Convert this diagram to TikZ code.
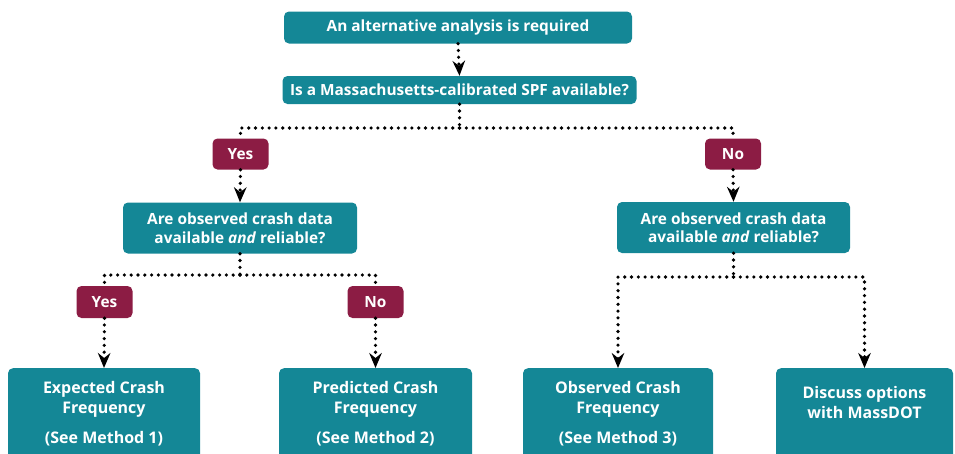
\documentclass[tikz,border=0pt]{standalone}
\usepackage{fontspec}
\setmainfont{Open Sans}
\usetikzlibrary{arrows.meta,calc}
\definecolor{tealbox}{RGB}{20,135,150}
\definecolor{answer}{RGB}{140,28,68}
\tikzset{
  x=1pt, y=-1pt,
  qbox/.style={rectangle, rounded corners=5pt, fill=tealbox, text=white,
    font=\fontsize{15.4}{18.5}\selectfont\bfseries, align=center, inner sep=0pt},
  ansbox/.style={rectangle, rounded corners=5pt, fill=answer, text=white,
    font=\fontsize{15.4}{18}\selectfont\bfseries, minimum width=56pt, minimum height=31pt, inner sep=0pt},
  boxtext/.style={text=white, font=\fontsize{16}{20.5}\selectfont\bfseries, align=center, inner sep=0pt},
  dotline/.style={line width=3.6pt, line cap=round, dash pattern=on 0pt off 6.8pt},
  flow/.style={dotline, -{Stealth[length=15pt, width=12.5pt, inset=5pt]}},
}
\begin{document}
\begin{tikzpicture}
\useasboundingbox (0,0) rectangle (955,453);
\clip (0,0) rectangle (955,453);

% question boxes
\node[qbox, minimum width=348pt, minimum height=32pt] (start) at (458,27.5) {An alternative analysis is required};
\node[qbox, minimum width=354pt, minimum height=28pt] (spf) at (459.5,90) {Is a Massachusetts-calibrated SPF available?};
\node[ansbox] (yesA) at (240.5,154) {Yes};
\node[ansbox] (noA) at (733,154) {No};
\node[qbox, minimum width=234pt, minimum height=51pt] (dataL) at (240,228) {Are observed crash data\\available \textit{and} reliable?};
\node[qbox, minimum width=233pt, minimum height=51pt] (dataR) at (733.5,227.5) {Are observed crash data\\available \textit{and} reliable?};
\node[ansbox, minimum height=32pt] (yesB) at (104.5,302) {Yes};
\node[ansbox, minimum height=32pt] (noB) at (375.5,302) {No};

% result boxes (run past the lower edge)
\node[qbox, anchor=north, minimum width=192pt, minimum height=94pt] (expct) at (104,368) {};
\node[qbox, anchor=north, minimum width=193pt, minimum height=94pt] (pred) at (375.5,368) {};
\node[qbox, anchor=north, minimum width=190pt, minimum height=94pt] (obs) at (618,368) {};
\node[qbox, anchor=north, minimum width=177pt, minimum height=94pt] (disc) at (864.5,368) {};

\node[boxtext, anchor=north] (expctT) at ([yshift=-13pt]expct.north) {Expected Crash\\Frequency\\[9pt](See Method 1)};
\node[boxtext, anchor=north] (predT) at ([yshift=-13pt]pred.north) {Predicted Crash\\Frequency\\[9pt](See Method 2)};
\node[boxtext, anchor=north] (obsT) at ([yshift=-13pt]obs.north) {Observed Crash\\Frequency\\[9pt](See Method 3)};
\node[boxtext, anchor=north] (discT) at ([yshift=-18pt]disc.north) {Discuss options\\with MassDOT};

% junction points of the branches
\coordinate (j1) at (459.5,128);
\coordinate (j2) at (240,275);
\coordinate (j3) at (733.5,277);

% connectors
\draw[flow] (start.south) -- (spf.north);
\draw[dotline] (spf.south) -- (j1);
\draw[dotline] (j1) -| (yesA.north);
\draw[dotline] (j1) -| (noA.north);
\draw[flow] (yesA.south) -- (dataL.north);
\draw[flow] (noA.south) -- (dataR.north);

\draw[dotline] (dataL.south) -- (j2);
\draw[dotline] (j2) -| (yesB.north);
\draw[dotline] (j2) -| (noB.north);
\draw[flow] (yesB.south) -- (expct.north);
\draw[flow] (noB.south) -- (pred.north);

\draw[dotline] (dataR.south) -- (j3);
\draw[flow] (j3) -| (obs.north);
\draw[flow] (j3) -| (disc.north);
\end{tikzpicture}
\end{document}
